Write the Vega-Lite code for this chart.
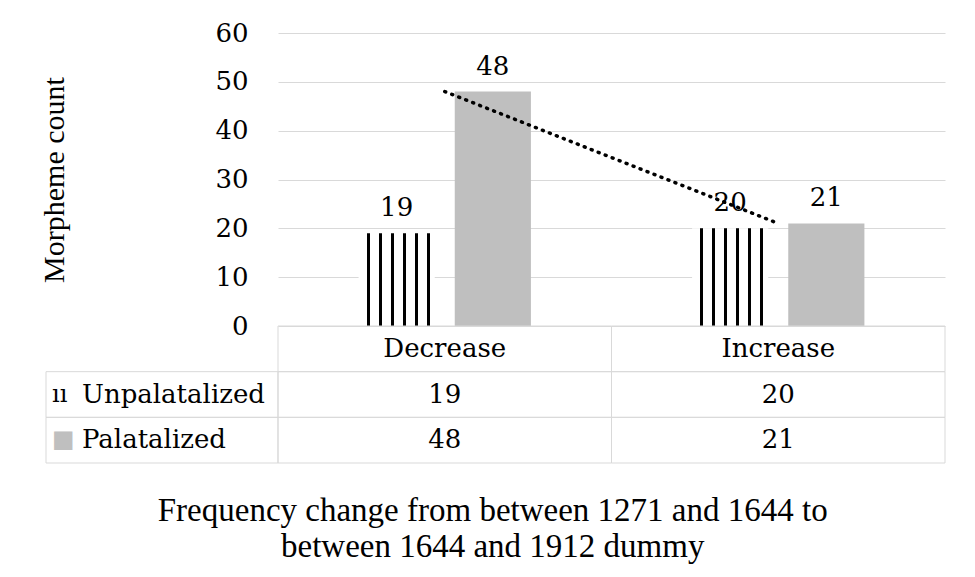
{
  "$schema": "https://vega.github.io/schema/vega-lite/v6.json",
  "background": "white",
  "padding": {"left": 39, "top": 20, "right": 30, "bottom": 10},
  "config": {
    "view": {"stroke": null},
    "axis": {
      "labelColor": "black",
      "titleColor": "black",
      "titleFontWeight": "normal"
    }
  },
  "datasets": {
    "counts": [
      {"category": "Decrease", "series": "Unpalatalized", "value": 19},
      {"category": "Decrease", "series": "Palatalized", "value": 48},
      {"category": "Increase", "series": "Unpalatalized", "value": 20},
      {"category": "Increase", "series": "Palatalized", "value": 21}
    ]
  },
  "title": {
    "text": ["Frequency change from between 1271 and 1644 to", "between 1644 and 1912 dummy"],
    "orient": "bottom",
    "anchor": "middle",
    "font": "Liberation Serif",
    "fontSize": 33,
    "fontWeight": "normal",
    "color": "black",
    "offset": 31,
    "lineHeight": 36
  },
  "columns": 2,
  "spacing": 0,
  "bounds": "flush",
  "concat": [
    {
      "width": 232,
      "height": 293,
      "data": {"values": [{}]},
      "mark": {"type": "text", "text": ""}
    },
    {
      "width": 667,
      "height": 293,
      "data": {"name": "counts"},
      "encoding": {
        "x": {
          "field": "category",
          "type": "nominal",
          "scale": {"domain": ["Decrease", "Increase"], "paddingInner": 0, "paddingOuter": 0},
          "axis": null
        },
        "y": {
          "field": "value",
          "type": "quantitative",
          "scale": {"domain": [0, 60]},
          "axis": {
            "values": [0, 10, 20, 30, 40, 50, 60],
            "title": "Morpheme count",
            "labelFont": "DejaVu Serif",
            "titleFont": "Liberation Serif",
            "labelFontSize": 26,
            "titleFontSize": 30,
            "domain": false,
            "ticks": false,
            "tickSize": 0,
            "labelPadding": 30,
            "titlePadding": 145,
            "gridColor": "#d9d9d9",
            "gridWidth": 1
          }
        }
      },
      "layer": [
        {
          "transform": [{"filter": "datum.series === 'Unpalatalized'"}],
          "mark": {
            "type": "bar",
            "fill": {
              "gradient": "linear",
              "x1": 0, "x2": 1, "y1": 0, "y2": 0,
              "stops": [
                {"offset": 0, "color": "white"},
                {"offset": 0.105, "color": "white"},
                {"offset": 0.105, "color": "black"},
                {"offset": 0.145, "color": "black"},
                {"offset": 0.145, "color": "white"},
                {"offset": 0.263, "color": "white"},
                {"offset": 0.263, "color": "black"},
                {"offset": 0.303, "color": "black"},
                {"offset": 0.303, "color": "white"},
                {"offset": 0.421, "color": "white"},
                {"offset": 0.421, "color": "black"},
                {"offset": 0.461, "color": "black"},
                {"offset": 0.461, "color": "white"},
                {"offset": 0.579, "color": "white"},
                {"offset": 0.579, "color": "black"},
                {"offset": 0.618, "color": "black"},
                {"offset": 0.618, "color": "white"},
                {"offset": 0.737, "color": "white"},
                {"offset": 0.737, "color": "black"},
                {"offset": 0.776, "color": "black"},
                {"offset": 0.776, "color": "white"},
                {"offset": 0.895, "color": "white"},
                {"offset": 0.895, "color": "black"},
                {"offset": 0.934, "color": "black"},
                {"offset": 0.934, "color": "white"},
                {"offset": 1, "color": "white"}
              ]
            }
          },
          "encoding": {
            "xOffset": {
              "field": "series",
              "scale": {"domain": ["Unpalatalized", "Palatalized"], "paddingInner": 0.208, "paddingOuter": 0.838}
            }
          }
        },
        {
          "transform": [{"filter": "datum.series === 'Palatalized'"}],
          "mark": {"type": "bar", "fill": "#bfbfbf"},
          "encoding": {
            "xOffset": {
              "field": "series",
              "scale": {"domain": ["Unpalatalized", "Palatalized"], "paddingInner": 0.208, "paddingOuter": 0.838}
            }
          }
        },
        {
          "mark": {"type": "text", "baseline": "bottom", "dy": -12, "font": "DejaVu Serif", "fontSize": 26, "color": "black"},
          "encoding": {
            "xOffset": {
              "field": "series",
              "scale": {"domain": ["Unpalatalized", "Palatalized"], "paddingInner": 0.208, "paddingOuter": 0.838}
            },
            "text": {"field": "value", "type": "quantitative"}
          }
        },
        {
          "transform": [{"filter": "datum.series === 'Palatalized'"}],
          "mark": {
            "type": "line",
            "stroke": "black",
            "strokeWidth": 3.5,
            "strokeDash": [1, 6.5],
            "strokeCap": "round"
          },
          "encoding": {}
        }
      ]
    },
    {
      "width": 232,
      "height": 137,
      "data": {"name": "counts"},
      "transform": [{"filter": "datum.category === 'Decrease'"}],
      "encoding": {
        "y": {
          "field": "series",
          "type": "nominal",
          "scale": {"domain": ["hdr", "Unpalatalized", "Palatalized"], "paddingInner": 0, "paddingOuter": 0},
          "axis": null
        }
      },
      "layer": [
        {
          "mark": {"type": "rect", "filled": false, "stroke": "#d9d9d9", "strokeWidth": 1}
        },
        {
          "mark": {"type": "text", "align": "left", "dx": -80, "font": "DejaVu Serif", "fontSize": 26, "color": "black"},
          "encoding": {"text": {"field": "series", "type": "nominal"}}
        },
        {
          "mark": {"type": "text", "align": "left", "dx": -110, "font": "DejaVu Serif", "fontSize": 24},
          "encoding": {
            "text": {"condition": {"test": "datum.series === 'Unpalatalized'", "value": "ıı"}, "value": "■"},
            "color": {"condition": {"test": "datum.series === 'Unpalatalized'", "value": "black"}, "value": "#bfbfbf"}
          }
        }
      ]
    },
    {
      "width": 667,
      "height": 137,
      "data": {"name": "counts"},
      "encoding": {
        "x": {
          "field": "category",
          "type": "nominal",
          "scale": {"domain": ["Decrease", "Increase"], "paddingInner": 0, "paddingOuter": 0},
          "axis": null
        }
      },
      "layer": [
        {
          "mark": {"type": "rect", "filled": false, "stroke": "#d9d9d9", "strokeWidth": 1},
          "encoding": {
            "y": {
              "field": "series",
              "type": "nominal",
              "scale": {"domain": ["hdr", "Unpalatalized", "Palatalized"], "paddingInner": 0, "paddingOuter": 0},
              "axis": null
            }
          }
        },
        {
          "transform": [{"filter": "datum.series === 'Unpalatalized'"}],
          "mark": {"type": "rect", "filled": false, "stroke": "#d9d9d9", "strokeWidth": 1},
          "encoding": {"y": {"datum": "hdr", "type": "nominal"}}
        },
        {
          "mark": {"type": "text", "font": "DejaVu Serif", "fontSize": 26, "color": "black"},
          "encoding": {
            "y": {"field": "series", "type": "nominal"},
            "text": {"field": "value", "type": "quantitative"}
          }
        },
        {
          "transform": [{"filter": "datum.series === 'Unpalatalized'"}],
          "mark": {"type": "text", "font": "DejaVu Serif", "fontSize": 26, "color": "black"},
          "encoding": {
            "y": {"datum": "hdr", "type": "nominal"},
            "text": {"field": "category", "type": "nominal"}
          }
        }
      ]
    }
  ]
}
